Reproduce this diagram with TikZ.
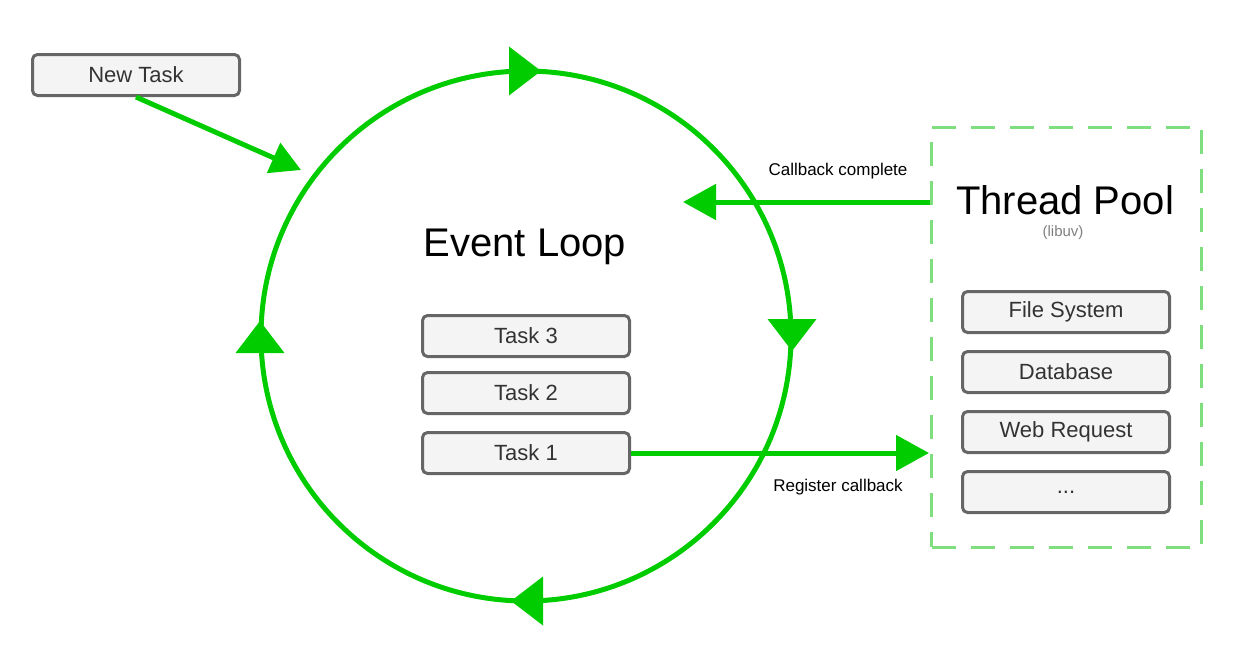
\documentclass[tikz,border=0pt]{standalone}
\usepackage{fontspec}
\setmainfont{Liberation Sans}
\usetikzlibrary{arrows.meta}

\definecolor{loopgreen}{HTML}{00CC00}
\definecolor{poolgreen}{HTML}{7FDF7F}
\definecolor{boxfill}{HTML}{F4F4F4}
\definecolor{boxline}{HTML}{666666}
\definecolor{boxtext}{HTML}{333333}

\tikzset{
  taskbox/.style={draw=boxline, fill=boxfill, line width=3pt, rounded corners=5pt,
    minimum width=207pt, minimum height=41pt, text=boxtext, font=\fontsize{22}{26}\selectfont},
  flow/.style={loopgreen, line width=5pt, -{Triangle[length=33pt,width=35pt]}},
}

\begin{document}
\begin{tikzpicture}[x=1pt,y=-1pt]
        \useasboundingbox (0,0) rectangle (1233,654);

        % event loop
        \coordinate (loop) at (526,336);
        \draw[loopgreen, line width=5pt] (loop) circle (265);
        \fill[loopgreen] (541,71) -- ++(-32,-24.5) -- ++(0,49) -- cycle;
        \fill[loopgreen] (792,351) -- ++(-24.5,-32) -- ++(49,0) -- cycle;
        \fill[loopgreen] (511,601) -- ++(32,-24.5) -- ++(0,49) -- cycle;
        \fill[loopgreen] (260,321) -- ++(-24.5,32) -- ++(49,0) -- cycle;
        \node[font=\fontsize{40}{46}\selectfont] (looptitle) at (525,247) {Event Loop};

        \node[taskbox] (task3) at (526,336) {Task 3};
        \node[taskbox] (task2) at (526,393) {Task 2};
        \node[taskbox] (task1) at (526,453) {Task 1};

        \node[taskbox] (newtask) at (136,75) {New Task};
        \coordinate (newin) at (301,170);
        \draw[flow,-{Triangle[length=30pt,width=32pt]}] (newtask.south) -- (newin);

        % thread pool
        \node[draw=poolgreen, line width=3pt, dash pattern=on 24pt off 15pt,
          minimum width=270pt, minimum height=420pt] (pool) at (1066.5,337) {};
        \node[font=\fontsize{40}{46}\selectfont] (pooltitle) at (1065,200) {Thread Pool};
        \node[text=gray, font=\fontsize{15}{18}\selectfont] (libuv) at (1063,233) {(libuv)};

        \node[taskbox] (fs) at (1066,312) {File System};
        \node[taskbox] (db) at (1066,372) {Database};
        \node[taskbox] (web) at (1066,432) {Web Request};
        \node[taskbox] (more) at (1066,492) {...};

        \coordinate (cbout) at (pool.west |- 0,202);
        \coordinate (cbin) at (683,202);
        \draw[flow] (cbout) -- (cbin);
        \node[font=\fontsize{17}{20}\selectfont] (cblabel) at (838,171) {Callback complete};

        \coordinate (regin) at (929,453);
        \draw[flow] (task1.east) -- (regin);
        \node[font=\fontsize{17}{20}\selectfont] (reglabel) at (838,487) {Register callback};
\end{tikzpicture}
\end{document}
